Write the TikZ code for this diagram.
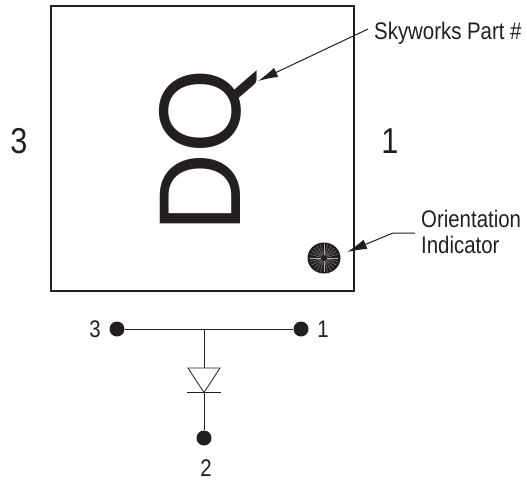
\documentclass[tikz,border=0pt]{standalone}
\usepackage{fontspec}
\setmainfont{Liberation Sans}
\newfontfamily\cond[FakeStretch=0.85]{Liberation Sans}
\newfontfamily\markfont{Lato}
\usetikzlibrary{arrows.meta,shapes.geometric}
\definecolor{ink}{HTML}{231F20}
\tikzset{
  x=1pt,y=-1pt,
  pkg/.style={draw=ink,line width=2pt,minimum width=303pt,minimum height=285pt,inner sep=0pt},
  lead/.style={draw=ink,line width=1pt,-{Latex[length=20pt,width=10pt]}},
  wire/.style={draw=ink,line width=1pt},
  thinwire/.style={draw=ink,line width=0.8pt},
  pin/.style={circle,fill=ink,minimum size=15pt,inner sep=0pt},
  small/.style={text=ink,inner sep=0pt,font=\cond\fontsize{24}{26}\selectfont,align=left},
  big/.style={text=ink,inner sep=0pt,font=\cond\fontsize{36}{38}\selectfont},
  pinlabel/.style={text=ink,inner sep=0pt,font=\cond\fontsize{24}{26}\selectfont}
}
\begin{document}
\begin{tikzpicture}
\useasboundingbox (0,0) rectangle (527,480);
\node[pkg] (package) at (202.5,148.5) {};
\node[text=ink,inner sep=0pt,rotate=90] (mark) at (208,151.5)
  {\scalebox{0.94}[1]{\markfont\fontsize{112}{114}\selectfont DQ}};
\node[big] (left) at (19,141) {3};
\node[big] (right) at (390,141) {1};
\node[small,anchor=west] (part) at (374,33) {Skyworks Part \#};
\node[small,anchor=west] (orient) at (421,232) {Orientation\\Indicator};
\coordinate (parttip) at (258,81);
\coordinate (orienttip) at (347,252);
\coordinate (orientbend) at (393,233);
\coordinate (partstart) at (368,29);
\coordinate (orientstart) at (415,233);
\draw[lead] (partstart) -- (parttip);
\draw[lead] (orientstart) -- (orientbend) -- (orienttip);
\node[ellipse,fill=ink,minimum width=33pt,minimum height=31pt,inner sep=0pt] (dot) at (324,258) {};
\foreach \a in {0,15,...,345}
  \draw[white!65!ink,line width=0.25pt] (dot.center) ++(\a:3) -- ++(\a:11);
\node[pin] (p3) at (117,329) {};
\node[pin] (p1) at (301,329) {};
\node[pin] (p2) at (204,438) {};
\coordinate (junction) at (204,329);
\coordinate (anodeTop) at (204,368);
\coordinate (cathode) at (204,392.5);
\draw[wire] (p3) -- (p1);
\draw[wire] (junction) -- (anodeTop);
\draw[thinwire] (188,368) -- (220,368) -- (cathode) -- cycle;
\draw[thinwire] (187,392.5) -- (220.5,392.5);
\draw[wire] (cathode) -- (p2);
\node[pinlabel] (l3) at (95,329.5) {3};
\node[pinlabel] (l1) at (323,329.5) {1};
\node[pinlabel] (l2) at (206,468) {2};
\end{tikzpicture}
\end{document}
